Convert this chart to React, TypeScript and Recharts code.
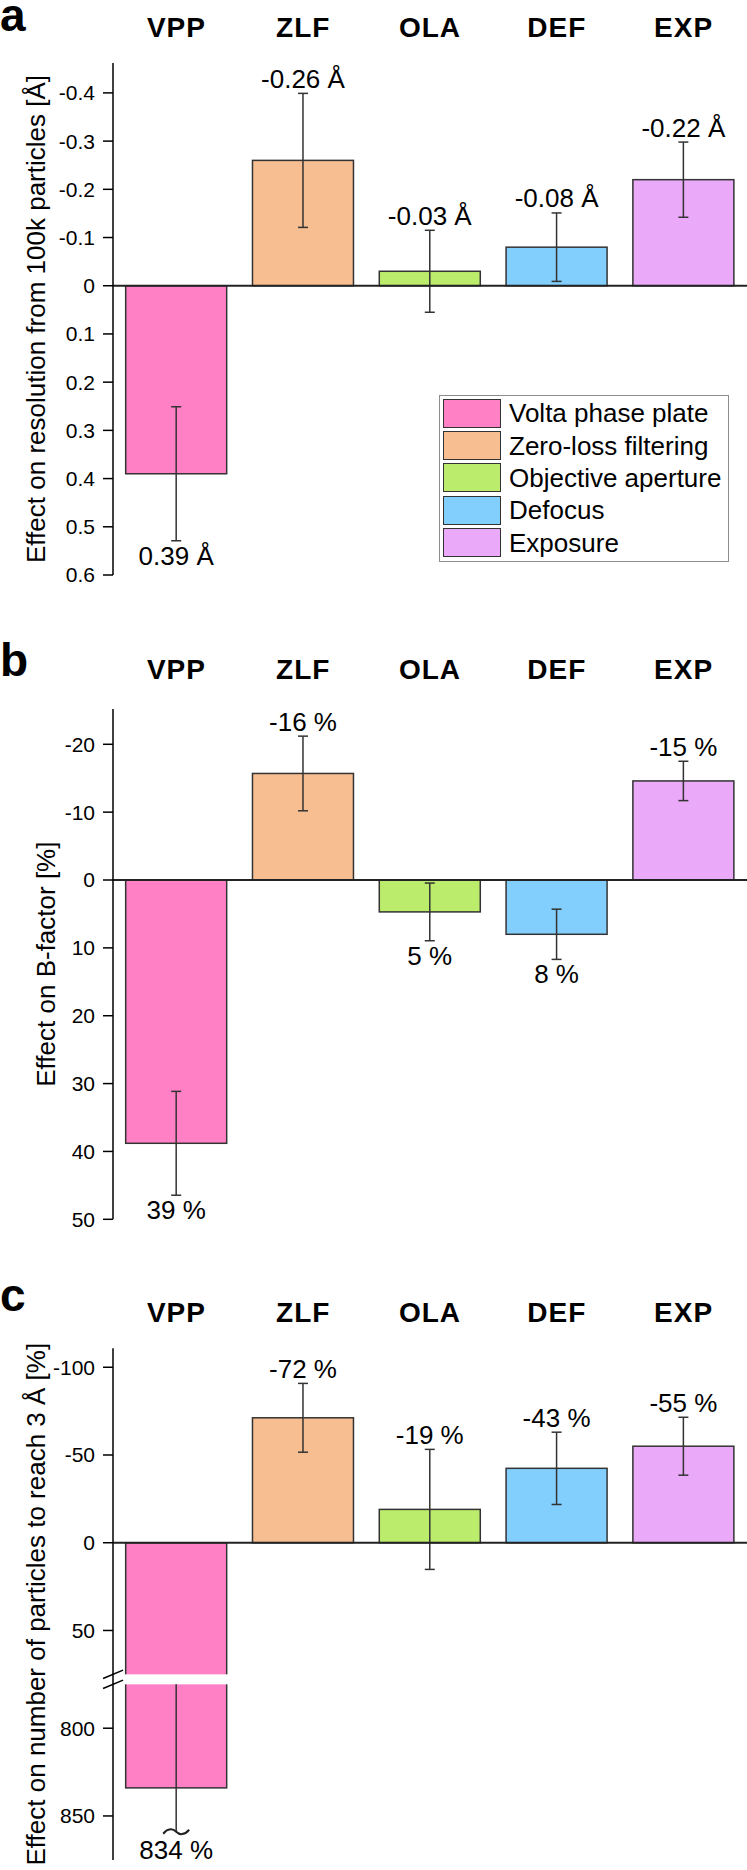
import React from "react";
import { BarChart, Bar, XAxis, YAxis, Cell, ErrorBar, ReferenceLine, Legend } from "recharts";

const FONT = "'Liberation Sans', Arial, Helvetica, sans-serif";

const categories = ["VPP", "ZLF", "OLA", "DEF", "EXP"];
const methodNames = ["Volta phase plate", "Zero-loss filtering", "Objective aperture", "Defocus", "Exposure"];
const colors = ["#FF80C5", "#F7BE92", "#BBEC6B", "#82CFFD", "#EBAAF9"];

// panel a: resolution
const resolutionValues = [0.39, -0.26, -0.03, -0.08, -0.22];
const resolutionErrors = [0.139, 0.139, 0.085, 0.071, 0.078];
const resolutionLabels = ["0.39 Å", "-0.26 Å", "-0.03 Å", "-0.08 Å", "-0.22 Å"];
const resolutionTicks = [-0.4, -0.3, -0.2, -0.1, 0, 0.1, 0.2, 0.3, 0.4, 0.5, 0.6];

// panel b: B-factor
const bfactorValues = [38.8, -15.7, 4.7, 8.0, -14.6];
const bfactorErrors = [7.65, 5.5, 4.25, 3.7, 2.9];
const bfactorLabels = ["39 %", "-16 %", "5 %", "8 %", "-15 %"];
const bfactorTicks = [-20, -10, 0, 10, 20, 30, 40, 50];

// panel c: particles to reach 3 Å (axis broken between 75 and 775)
const particleValues = [834, -71.2, -19, -42.4, -55];
const particleErrors = [25, 19.6, 34.2, 20.6, 16.5];
const particleLabels = ["834 %", "-72 %", "-19 %", "-43 %", "-55 %"];
const particleTicks = [-100, -50, 0, 50, 800, 850];

const BREAK_LOW = 75;
const BREAK_HIGH = 775;
const BREAK_SHIFT = 694.3;
const toBroken = (v: number) => (v <= BREAK_LOW ? v : Math.max(v, BREAK_HIGH) - BREAK_SHIFT);
const fromBroken = (d: number) => (d <= BREAK_LOW ? d : d + BREAK_SHIFT);

type Row = {
  name: string;
  value: number;
  raw: number;
  err?: number;
  rawErr: number;
  label: string;
  crosses: boolean;
};

function buildRows(values: number[], errors: number[], labels: string[], broken: boolean): Row[] {
  return categories.map((name, i) => {
    const crosses = broken && values[i] > BREAK_LOW;
    return {
      name,
      value: broken ? toBroken(values[i]) : values[i],
      raw: values[i],
      err: crosses ? undefined : errors[i],
      rawErr: errors[i],
      label: labels[i],
      crosses,
    };
  });
}

function BarShape(props: any) {
  const { x, y, width, height, fill, payload } = props;
  const top = Math.min(y, y + height);
  const h = Math.abs(height);
  const bottom = top + h;
  const ppu = h / Math.abs(payload.value || 1);
  const cx = x + width / 2;
  const up = payload.value < 0;
  const textStyle = { fontFamily: FONT, fontSize: 26, fill: "#000" };

  if (payload.crosses) {
    const gapTop = top + BREAK_LOW * ppu;
    const gapBot = top + (BREAK_HIGH - BREAK_SHIFT) * ppu;
    const errEnd = top + toBroken(payload.raw + payload.rawErr) * ppu;
    const axisX = x - width * 0.125;
    return (
      <g>
        <rect x={x} y={top} width={width} height={h} fill={fill} stroke="#333" strokeWidth={1.5} />
        <rect x={x - 2} y={gapTop} width={width + 4} height={gapBot - gapTop} fill="#fff" />
        <polygon
          points={`${axisX - 4},${gapTop + 1.7} ${axisX + 4},${gapTop - 1.7} ${axisX + 4},${gapBot - 1.7} ${axisX - 4},${gapBot + 1.7}`}
          fill="#fff"
        />
        <line x1={axisX - 10} y1={gapTop + 4.2} x2={axisX + 10} y2={gapTop - 4.2} stroke="#000" strokeWidth={1.5} />
        <line x1={axisX - 10} y1={gapBot + 4.2} x2={axisX + 10} y2={gapBot - 4.2} stroke="#000" strokeWidth={1.5} />
        <line x1={cx} y1={gapBot} x2={cx} y2={errEnd} stroke="#333" strokeWidth={1.5} />
        <path
          d={`M ${cx - 13} ${errEnd + 2} C ${cx - 8} ${errEnd - 4}, ${cx - 3} ${errEnd - 3}, ${cx} ${errEnd} C ${cx + 3} ${errEnd + 3}, ${cx + 8} ${errEnd + 4}, ${cx + 13} ${errEnd - 2}`}
          fill="none"
          stroke="#222"
          strokeWidth={2}
        />
        <text x={cx} y={errEnd + 27} textAnchor="middle" style={textStyle}>
          {payload.label}
        </text>
      </g>
    );
  }

  const labelY = up ? top - payload.rawErr * ppu - 5.5 : bottom + payload.rawErr * ppu + 24;
  return (
    <g>
      <rect x={x} y={top} width={width} height={h} fill={fill} stroke="#333" strokeWidth={1.5} />
      <text x={cx} y={labelY} textAnchor="middle" style={textStyle}>
        {payload.label}
      </text>
    </g>
  );
}

function LegendBox() {
  return (
    <div
      style={{
        width: 290,
        height: 167,
        boxSizing: "border-box",
        border: "1px solid #8c8c8c",
        background: "#fff",
        padding: "1px 3px",
        fontFamily: FONT,
      }}
    >
      {methodNames.map((n, i) => (
        <div key={n} style={{ display: "flex", alignItems: "center", height: 32.4 }}>
          <div
            style={{
              width: 58,
              height: 29,
              boxSizing: "border-box",
              background: colors[i],
              border: "1.5px solid #333",
            }}
          />
          <span style={{ marginLeft: 8, fontSize: 26, lineHeight: 1, color: "#000" }}>{n}</span>
        </div>
      ))}
    </div>
  );
}

type PanelProps = {
  top: number;
  height: number;
  plotTop: number;
  marginBottom: number;
  rows: Row[];
  domain: [number, number];
  ticks: number[];
  tickFormat: (v: number) => string;
  title: string;
  titleX: number;
  headerGap: number;
  legend?: boolean;
};

function Panel(p: PanelProps) {
  return (
    <div style={{ position: "absolute", left: 0, top: p.top }}>
      <BarChart
        width={747}
        height={p.height}
        data={p.rows}
        margin={{ top: 0, right: 0, bottom: p.marginBottom, left: 0 }}
        barCategoryGap="10%"
      >
        <XAxis
          dataKey="name"
          orientation="top"
          height={p.plotTop}
          axisLine={false}
          tickLine={false}
          tickSize={0}
          tickMargin={p.headerGap}
          interval={0}
          tick={{ fill: "#000", fontSize: 28, fontWeight: "bold", fontFamily: FONT, letterSpacing: 1 }}
        />
        <YAxis
          type="number"
          reversed
          width={113}
          domain={p.domain}
          allowDataOverflow
          ticks={p.ticks}
          interval={0}
          tickFormatter={p.tickFormat}
          tickSize={10}
          tickMargin={8}
          axisLine={{ stroke: "#000", strokeWidth: 1.5 }}
          tickLine={{ stroke: "#000", strokeWidth: 1.5 }}
          tick={{ fill: "#000", fontSize: 21, fontFamily: FONT }}
          label={{
            value: p.title,
            angle: -90,
            position: "insideLeft",
            offset: p.titleX,
            style: { textAnchor: "middle", fill: "#000", fontSize: 26, fontFamily: FONT },
          }}
        />
        <Bar dataKey="value" shape={BarShape} isAnimationActive={false}>
          {p.rows.map((r, i) => (
            <Cell key={r.name} fill={colors[i]} />
          ))}
          <ErrorBar dataKey="err" width={5} stroke="#333" strokeWidth={1.5} direction="y" />
        </Bar>
        <ReferenceLine y={0} stroke="#222" strokeWidth={2} />
        {p.legend && (
          <Legend
            layout="vertical"
            align="center"
            verticalAlign="middle"
            wrapperStyle={{ left: 439, top: 395, width: 290 }}
            content={() => <LegendBox />}
          />
        )}
      </BarChart>
    </div>
  );
}

const letterStyle: React.CSSProperties = {
  position: "absolute",
  left: 0,
  fontFamily: FONT,
  fontWeight: "bold",
  fontSize: 46,
  lineHeight: "30px",
  height: 34,
  color: "#000",
};

export default function App() {
  return (
    <div style={{ position: "absolute", left: 0, top: 0, width: 747, height: 1870, background: "#fff" }}>
      <Panel
        top={0}
        height={590}
        plotTop={63}
        marginBottom={15}
        rows={buildRows(resolutionValues, resolutionErrors, resolutionLabels, false)}
        domain={[-0.462, 0.6]}
        ticks={resolutionTicks}
        tickFormat={(v) => (v === 0 ? "0" : v.toFixed(1))}
        title="Effect on resolution from 100k particles [Å]"
        titleX={36}
        headerGap={26}
        legend
      />
      <Panel
        top={595}
        height={635}
        plotTop={114}
        marginBottom={10.7}
        rows={buildRows(bfactorValues, bfactorErrors, bfactorLabels, false)}
        domain={[-25.2, 50]}
        ticks={bfactorTicks}
        tickFormat={(v) => String(v)}
        title="Effect on B-factor [%]"
        titleX={46}
        headerGap={30}
      />
      <Panel
        top={1240}
        height={630}
        plotTop={108.3}
        marginBottom={10}
        rows={buildRows(particleValues, particleErrors, particleLabels, true)}
        domain={[-110.8, 180.8]}
        ticks={particleTicks.map(toBroken)}
        tickFormat={(v) => String(Math.round(fromBroken(v)))}
        title="Effect on number of particles to reach 3 Å [%]"
        titleX={36}
        headerGap={26}
      />
      <div style={{ ...letterStyle, top: 0 }}>a</div>
      <div style={{ ...letterStyle, top: 645 }}>b</div>
      <div style={{ ...letterStyle, top: 1280 }}>c</div>
    </div>
  );
}
